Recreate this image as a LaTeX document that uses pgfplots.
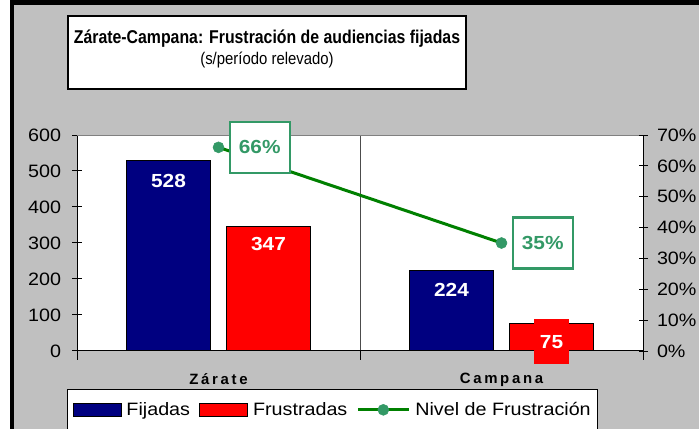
\documentclass[border=0pt]{standalone}
\usepackage{pgfplots}
\pgfplotsset{compat=1.18}
\usepackage{fontspec}
\setmainfont{Liberation Sans}[FakeStretch=1.1]
\newfontfamily\titlefont{Liberation Sans}[FakeStretch=0.855]
\newfontfamily\plainfont{Liberation Sans}[FakeStretch=0.88]
\newfontfamily\catfont{Liberation Sans}[LetterSpace=18]
\definecolor{navybar}{RGB}{0,0,128}
\definecolor{redbar}{RGB}{255,0,0}
\definecolor{lgreen}{RGB}{0,128,0}
\definecolor{mgreen}{RGB}{51,153,102}
\definecolor{bgray}{RGB}{192,192,192}
\newcommand{\rb}[1]{{\setlength{\fboxsep}{0pt}\colorbox{redbar}{\rule[-15.7bp]{0pt}{45bp}\hspace{6bp}#1\hspace{6bp}}}}
\pgfplotsset{
  lineleg/.style={legend image code/.code={\draw[mark repeat=2, mark phase=2, ##1] plot coordinates {(0bp,0bp) (25.5bp,0bp) (51bp,0bp)};}},
  navyleg/.style={legend image code/.code={\draw[draw=black, line width=1bp, fill=navybar] (0bp,-6.5bp) rectangle (48bp,6.5bp);}},
  redleg/.style={legend image code/.code={\draw[draw=black, line width=1bp, fill=redbar] (0bp,-6.5bp) rectangle (48bp,6.5bp);}},
}
\begin{document}
\begin{tikzpicture}
\useasboundingbox (0,0) rectangle (699bp,429bp);
\fill[white] (0,0) rectangle (699bp,429bp);
\fill[black] (10bp,0) rectangle (699bp,429bp);
\fill[bgray] (14bp,0) rectangle (699bp,424bp);
\draw[line width=1.5bp, fill=white] (68bp,340bp) rectangle (466bp,413bp);
\node[anchor=base, inner sep=0pt, font=\titlefont\bfseries\fontsize{18.6}{20}\selectfont] at (267bp,385bp) {Zárate-Campana: Frustración de audiencias fijadas};
\node[anchor=base, inner sep=0pt, font=\plainfont\fontsize{17}{19}\selectfont] at (267bp,364bp) {(s/período relevado)};

\begin{axis}[
  at={(77bp,78bp)}, anchor=south west,
  scale only axis, width=566bp, height=216bp,
  xmin=-0.5, xmax=1.5, ymin=0, ymax=600,
  axis x line*=bottom, axis y line*=left,
  axis line style={black, line width=1bp},
  axis background/.style={fill=white},
  ybar=16bp, bar width=84bp,
  xtick={-0.5,0.5,1.5}, xticklabels={},
  xtick align=outside,
  ytick align=center,
  major tick length=9bp,
  tick style={black, line width=1bp},
  extra x ticks={0,1}, extra x tick labels={Zárate,Campana},
  extra x tick style={major tick length=0pt, xmajorgrids=false,
     xticklabel style={font=\catfont\bfseries\fontsize{15}{18}\selectfont, yshift=-19bp}},
  xmajorgrids, major grid style={black!70, line width=0.7bp},
  ytick={0,100,200,300,400,500,600},
  yticklabels={0,100,200,300,400,500,600},
  yticklabel style={font=\fontsize{18}{20}\selectfont, xshift=-8bp},
  after end axis/.code={\draw[gray, line width=0.7bp] (rel axis cs:0,1) -- (rel axis cs:1,1);},
]
\addplot[fill=navybar, draw=black, line width=1bp,
  nodes near coords, point meta=explicit symbolic,
  every node near coord/.append style={anchor=center, yshift=-20bp, text=white, font=\bfseries\fontsize{19}{20}\selectfont}]
  coordinates {(0,528) [528] (1,224) [224]};
\addplot[fill=redbar, draw=black, line width=1bp,
  nodes near coords, point meta=explicit symbolic,
  every node near coord/.append style={anchor=center, yshift=-18bp, text=white, inner sep=0pt, font=\bfseries\fontsize{19}{20}\selectfont}]
  coordinates {(0,347) [347] (1,75) [\rb{75}]};
\end{axis}

\begin{axis}[
  at={(77bp,78bp)}, anchor=south west,
  scale only axis, width=566bp, height=216bp,
  xmin=-0.5, xmax=1.5, ymin=0, ymax=0.7,
  axis y line*=right, axis x line=none,
  axis line style={black, line width=1bp},
  ytick align=center,
  major tick length=9bp,
  tick style={black, line width=1bp},
  ytick={0,0.1,0.2,0.3,0.4,0.5,0.6,0.7},
  yticklabels={0\%,10\%,20\%,30\%,40\%,50\%,60\%,70\%},
  yticklabel style={font=\fontsize{18}{20}\selectfont, xshift=6bp},
  legend columns=3,
  legend style={at={(-0.01767,-0.1759)}, anchor=north west, draw=black, line width=1bp, fill=white,
     font=\fontsize{18}{20}\selectfont, inner xsep=5bp, inner ysep=11bp,
     /tikz/every odd column/.append style={column sep=3bp},
     /tikz/every even column/.append style={column sep=7bp}},
]
\addlegendimage{navyleg}
\addlegendentry{Fijadas}
\addlegendimage{redleg}
\addlegendentry{Frustradas}
\addplot[color=lgreen, line width=3bp, mark=*, mark size=5.5bp,
  mark options={draw=mgreen, fill=mgreen, line width=0.5bp},
  nodes near coords, point meta=explicit symbolic,
  every node near coord/.append style={anchor=west, xshift=10bp, yshift=0bp, draw=mgreen, line width=2.5bp, fill=white, text=mgreen, minimum width=60bp, minimum height=51bp, inner sep=0pt, font=\bfseries\fontsize{19}{20}\selectfont},
  lineleg]
  coordinates {(0,0.66) [66\%] (1,0.35) [35\%]};
\addlegendentry{Nivel de Frustración}
\end{axis}
\end{tikzpicture}
\end{document}
